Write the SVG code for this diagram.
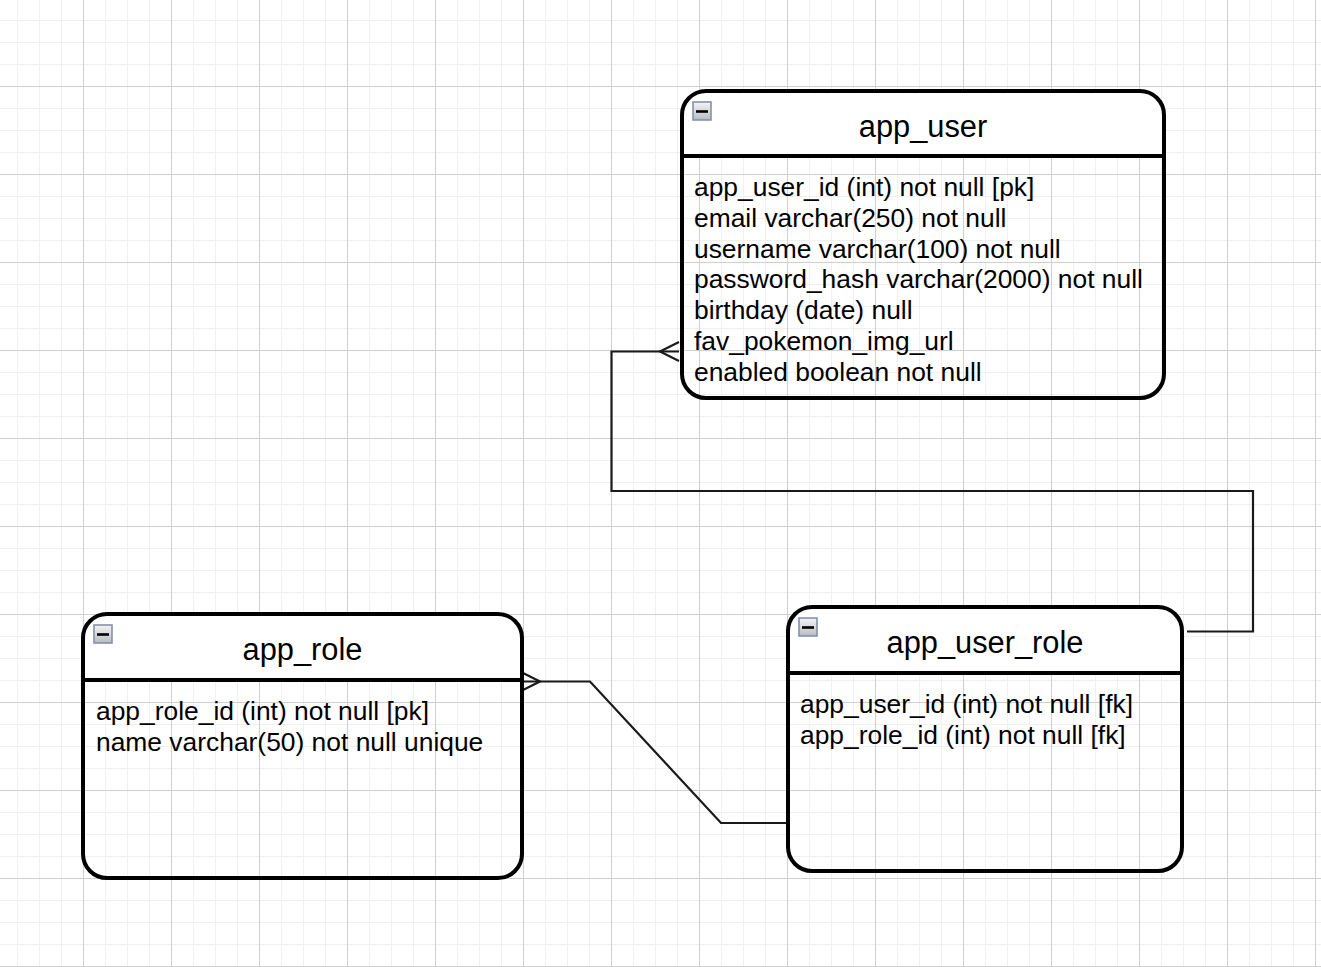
<svg xmlns="http://www.w3.org/2000/svg" width="1321" height="967" viewBox="0 0 1321 967">
  <style>
    .frame { fill: none; stroke: #000; stroke-width: 4; }
    .head { fill: #fff; stroke: none; }
    .sep { stroke: #000; stroke-width: 4; }
    .title { font-family: "Liberation Sans", Arial, Helvetica, sans-serif; font-size: 30.8px; fill: #000; text-anchor: middle; }
    .row { font-family: "Liberation Sans", Arial, Helvetica, sans-serif; font-size: 26.4px; fill: #000; }
    .btn { fill: url(#btnFill); stroke: #8592a8; stroke-width: 1.6; }
    .dash { stroke: #000; stroke-width: 2.6; }
    .edge { fill: none; stroke: #1a1a1a; stroke-width: 2.2; stroke-linejoin: miter; }
  </style>
  <defs>
    <pattern id="grid" patternUnits="userSpaceOnUse" x="-5" y="-2" width="88" height="88">
      <rect width="88" height="88" fill="#fff"/>
      <g fill="#f0f0f0">
        <rect x="22" y="0" width="1" height="88"/>
        <rect x="44" y="0" width="1" height="88"/>
        <rect x="66" y="0" width="1" height="88"/>
        <rect x="0" y="22" width="88" height="1"/>
        <rect x="0" y="44" width="88" height="1"/>
        <rect x="0" y="66" width="88" height="1"/>
      </g>
      <g fill="#d0d0d0">
        <rect x="0" y="0" width="1" height="88"/>
        <rect x="0" y="0" width="88" height="1"/>
      </g>
    </pattern>
    <linearGradient id="btnFill" x1="0" y1="0" x2="0" y2="1">
      <stop offset="0" stop-color="#f4f4f4"/>
      <stop offset="1" stop-color="#b8bcc4"/>
    </linearGradient>
  </defs>

  <!-- canvas grid -->
  <rect x="0" y="0" width="1321" height="967" fill="url(#grid)"/>

  <!-- relationships -->
  <g id="connectors">
    <!-- app_user_role -> app_user (many) -->
    <path class="edge" d="M1187,631.5 H1253 V491 H611.5 V351.5 H679"/>
    <path class="edge" d="M679,342 L660,351.5 L679,361"/>
    <!-- app_user_role -> app_role (many) -->
    <path class="edge" d="M523,681.5 H590 L721,823 H787"/>
    <path class="edge" d="M523,673 L540,681.5 L523,690"/>
  </g>

  <!-- app_user table -->
  <g id="app_user">
    <path class="head" d="M682,156 V115 A24,24 0 0 1 706,91 H1140 A24,24 0 0 1 1164,115 V156 Z"/>
    <rect class="frame" x="682" y="91" width="482" height="307" rx="24" ry="24"/>
    <line class="sep" x1="682" y1="156" x2="1164" y2="156"/>
    <rect class="btn" x="693" y="102" width="18" height="18"/>
    <line class="dash" x1="696" y1="111.5" x2="708" y2="111.5"/>
    <text class="title" x="923" y="137">app_user</text>
    <text class="row" x="694" y="196">app_user_id (int) not null [pk]</text>
    <text class="row" x="694" y="226.8">email varchar(250) not null</text>
    <text class="row" x="694" y="257.6">username varchar(100) not null</text>
    <text class="row" x="694" y="288.4">password_hash varchar(2000) not null</text>
    <text class="row" x="694" y="319.2">birthday (date) null</text>
    <text class="row" x="694" y="350">fav_pokemon_img_url</text>
    <text class="row" x="694" y="380.8">enabled boolean not null</text>
  </g>

  <!-- app_role table -->
  <g id="app_role">
    <path class="head" d="M83,680 V638 A24,24 0 0 1 107,614 H498 A24,24 0 0 1 522,638 V680 Z"/>
    <rect class="frame" x="83" y="614" width="439" height="264" rx="24" ry="24"/>
    <line class="sep" x1="83" y1="680" x2="522" y2="680"/>
    <rect class="btn" x="94" y="625" width="18" height="18"/>
    <line class="dash" x1="97" y1="634.5" x2="109" y2="634.5"/>
    <text class="title" x="302.5" y="660">app_role</text>
    <text class="row" x="96" y="720">app_role_id (int) not null [pk]</text>
    <text class="row" x="96" y="750.8">name varchar(50) not null unique</text>
  </g>

  <!-- app_user_role table -->
  <g id="app_user_role">
    <path class="head" d="M788,673 V631 A24,24 0 0 1 812,607 H1158 A24,24 0 0 1 1182,631 V673 Z"/>
    <rect class="frame" x="788" y="607" width="394" height="264" rx="24" ry="24"/>
    <line class="sep" x1="788" y1="673" x2="1182" y2="673"/>
    <rect class="btn" x="799" y="618" width="18" height="18"/>
    <line class="dash" x1="802" y1="627.5" x2="814" y2="627.5"/>
    <text class="title" x="985" y="653">app_user_role</text>
    <text class="row" x="800" y="713">app_user_id (int) not null [fk]</text>
    <text class="row" x="800" y="743.8">app_role_id (int) not null [fk]</text>
  </g>
</svg>
